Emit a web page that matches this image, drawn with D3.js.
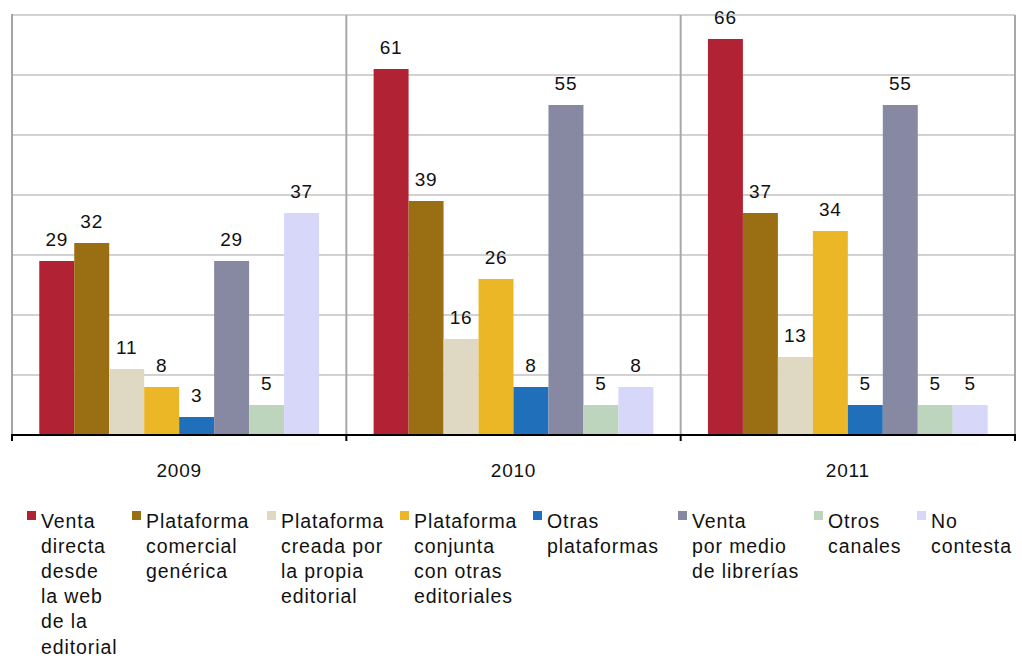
<!DOCTYPE html>
<html>
<head>
<meta charset="utf-8">
<script src="https://cdn.jsdelivr.net/npm/d3@7"></script>
<style>
  body { margin: 0; background: #fff; }
  text { font-family: "Liberation Sans", Arial, Helvetica, sans-serif; fill: #111; }
</style>
</head>
<body>
<svg id="chart" width="1022" height="658"></svg>
<script>
// data
var years = ["2009", "2010", "2011"];
var seriesNames = ["venta_web", "plat_generica", "plat_propia", "plat_conjunta", "otras_plat", "librerias", "otros_canales", "no_contesta"];
var seriesLabels = [
    ["Venta", "directa", "desde", "la web", "de la", "editorial"],
    ["Plataforma", "comercial", "genérica"],
    ["Plataforma", "creada por", "la propia", "editorial"],
    ["Plataforma", "conjunta", "con otras", "editoriales"],
    ["Otras", "plataformas"],
    ["Venta", "por medio", "de librerías"],
    ["Otros", "canales"],
    ["No", "contesta"]
];
var seriesColors = ["#b12334", "#9a6e12", "#dfd9c4", "#ecb726", "#1f6fbb", "#8788a1", "#bdd5bc", "#d7d7f9"];
var values2009 = [29, 32, 11, 8, 3, 29, 5, 37];
var values2010 = [61, 39, 16, 26, 8, 55, 5, 8];
var values2011 = [66, 37, 13, 34, 5, 55, 5, 5];
var gridTicks = [0, 10, 20, 30, 40, 50, 60, 70];
var legendX = [27, 132, 267, 400, 533, 678, 814, 917];

var valuesByYear = [values2009, values2010, values2011];

var svg = d3.select("#chart"),
    margin = { top: 15, left: 12, right: 7 },
    plotBottom = 435;

var x0 = d3.scaleBand().domain(years).range([margin.left, 1022 - margin.right]).padding(0);
var x1 = d3.scaleBand().domain(seriesNames).range([0, x0.bandwidth()]).paddingInner(0).paddingOuter(0.78);
var y = d3.scaleLinear().domain([0, 70]).range([plotBottom, margin.top]);

// gridlines
svg.append("g")
    .selectAll("line")
    .data(gridTicks.filter(d => d > 0))
    .enter().append("line")
    .attr("x1", margin.left).attr("x2", 1022 - margin.right)
    .attr("y1", d => y(d)).attr("y2", d => y(d))
    .attr("stroke", "#d2d2d2").attr("stroke-width", 2);

// vertical separators between years + right border
var bounds = years.map(d => x0(d) + x0.bandwidth());
svg.append("g")
    .selectAll("line")
    .data(bounds)
    .enter().append("line")
    .attr("x1", d => d).attr("x2", d => d)
    .attr("y1", y(70)).attr("y2", plotBottom)
    .attr("stroke", "#a8a8a8").attr("stroke-width", 2);

// left axis line
svg.append("line")
    .attr("x1", margin.left).attr("x2", margin.left)
    .attr("y1", y(70) - 1).attr("y2", plotBottom)
    .attr("stroke", "#a4a4a4").attr("stroke-width", 2);

// bars
var groups = svg.append("g")
    .selectAll("g")
    .data(years)
    .enter().append("g")
    .attr("transform", d => "translate(" + x0(d) + ",0)");

groups.selectAll("rect")
    .data((d, i) => valuesByYear[i].map((v, j) => ({ key: seriesNames[j], value: v, color: seriesColors[j] })))
    .enter().append("rect")
    .attr("x", d => x1(d.key))
    .attr("width", x1.bandwidth())
    .attr("y", d => y(d.value))
    .attr("height", d => y(0) - y(d.value))
    .attr("fill", d => d.color);

groups.selectAll("text")
    .data((d, i) => valuesByYear[i].map((v, j) => ({ key: seriesNames[j], value: v })))
    .enter().append("text")
    .attr("x", d => x1(d.key) + x1.bandwidth() / 2)
    .attr("y", d => y(d.value) - 15)
    .attr("text-anchor", "middle")
    .style("font-size", "19px")
    .style("letter-spacing", "0.8px")
    .text(d => d.value);

// x axis (black baseline with ticks at group boundaries)
var xAxis = svg.append("g").attr("transform", "translate(0," + plotBottom + ")");
xAxis.append("line")
    .attr("x1", margin.left - 1).attr("x2", 1022 - margin.right + 1)
    .attr("stroke", "#000").attr("stroke-width", 2);
xAxis.selectAll("line.tick")
    .data([margin.left].concat(bounds))
    .enter().append("line")
    .attr("class", "tick")
    .attr("x1", d => d).attr("x2", d => d)
    .attr("y1", 0).attr("y2", 6)
    .attr("stroke", "#000").attr("stroke-width", 2);
xAxis.selectAll("text")
    .data(years)
    .enter().append("text")
    .attr("x", d => x0(d) + x0.bandwidth() / 2)
    .attr("y", 42)
    .attr("text-anchor", "middle")
    .style("font-size", "19px")
    .style("letter-spacing", "0.8px")
    .text(d => d);

// legend
var legend = svg.append("g")
    .selectAll("g")
    .data(seriesNames)
    .enter().append("g")
    .attr("transform", (d, i) => "translate(" + legendX[i] + ",511)");

legend.append("rect")
    .attr("width", 9).attr("height", 9)
    .attr("fill", (d, i) => seriesColors[i]);

legend.append("text")
    .attr("x", 14)
    .attr("y", 16.5)
    .style("font-size", "19.5px")
    .style("letter-spacing", "0.9px")
    .selectAll("tspan")
    .data((d, i) => seriesLabels[i])
    .enter().append("tspan")
    .attr("x", 14)
    .attr("dy", (d, i) => i === 0 ? 0 : 25.2)
    .text(d => d);
</script>
</body>
</html>
